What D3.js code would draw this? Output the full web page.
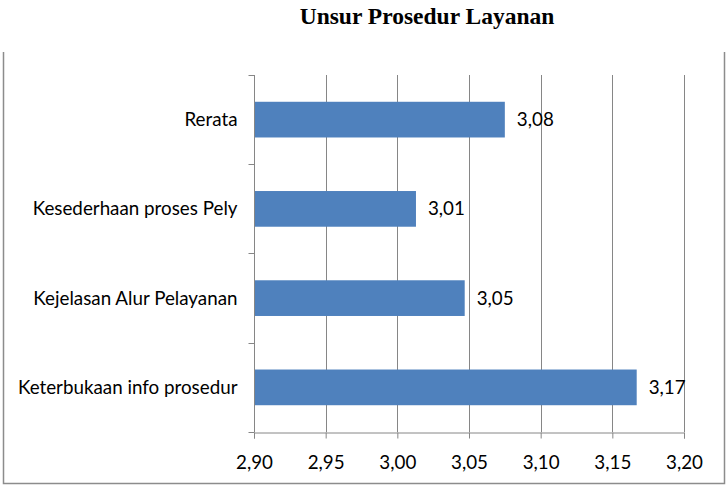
<!DOCTYPE html>
<html><head><meta charset="utf-8">
<script src="https://cdn.jsdelivr.net/npm/d3@7"></script>
<style>body{margin:0;background:#fff}svg{display:block}</style>
</head><body>
<script>
const categories = ["Rerata","Kesederhaan proses Pely","Kejelasan Alur Pelayanan","Keterbukaan info prosedur"];
const values = [3.075, 3.013, 3.047, 3.167];
const xTicks = [2.90, 2.95, 3.00, 3.05, 3.10, 3.15, 3.20];
const title = "Unsur Prosedur Layanan";

const W = 728, H = 486;
const svg = d3.select("body").append("svg").attr("width", W).attr("height", H);
const m = {left:254, right:684, top:75, bottom:432};
const x = d3.scaleLinear().domain([2.90, 3.20]).range([m.left, m.right]);
const y = d3.scaleBand().domain(categories).range([m.top, m.bottom]).paddingInner(0.6).paddingOuter(0.3);
const fmt = v => d3.format(".2f")(v).replace(".", ",");
const font = "Lato, 'Open Sans', sans-serif";
const fs = 18.8;

// outer border (left, right, bottom)
const bc = "#8c8c8c";
svg.append("path").attr("d","M3.5,52 V483.5 H724.5 V52").attr("fill","none").attr("stroke",bc).attr("stroke-width",1.5);

svg.append("text").attr("x",427).attr("y",24).attr("text-anchor","middle")
  .attr("font-family","'Liberation Serif','Times New Roman',serif").attr("font-weight","bold")
  .attr("font-size",23.5).text(title);

// gridlines
svg.append("g").selectAll("line").data(xTicks).join("line")
  .attr("x1",d=>Math.round(x(d))+0.5).attr("x2",d=>Math.round(x(d))+0.5)
  .attr("y1",m.top).attr("y2",m.bottom).attr("stroke","#868686").attr("stroke-width",1);

// x axis
const xa = svg.append("g").attr("transform",`translate(0,${m.bottom+0.5})`)
  .call(d3.axisBottom(x).tickValues(xTicks).tickFormat(fmt).tickSize(6).tickPadding(17));
xa.select(".domain").attr("stroke","#868686");
xa.selectAll(".tick line").attr("stroke","#868686");
xa.selectAll("text").attr("font-family",font).attr("font-size",fs).attr("fill","#000");

// y axis
const boundaries = categories.map(c => y(c) - y.step()*y.paddingInner()/2);
boundaries.push(m.bottom);
const ya = svg.append("g").attr("transform",`translate(${m.left+0.5},0)`);
ya.append("line").attr("y1",m.top).attr("y2",m.bottom).attr("stroke","#868686");
ya.selectAll("line.t").data(boundaries).join("line").attr("class","t")
  .attr("x1",-6).attr("x2",0).attr("y1",d=>Math.round(d)+0.5).attr("y2",d=>Math.round(d)+0.5).attr("stroke","#868686");
ya.selectAll("text").data(categories).join("text")
  .attr("x",-17).attr("y",c=>y(c)+y.bandwidth()/2).attr("dy","0.35em").attr("text-anchor","end")
  .attr("font-family",font).attr("font-size",fs).attr("fill","#000").text(c=>c);

// bars
svg.append("g").selectAll("rect").data(categories).join("rect")
  .attr("x",m.left+1).attr("y",c=>y(c)).attr("height",y.bandwidth())
  .attr("width",(c,i)=>x(values[i])-m.left-1).attr("fill","#4f81bd");

// value labels
svg.append("g").selectAll("text").data(categories).join("text")
  .attr("x",(c,i)=>x(values[i])+12).attr("y",c=>y(c)+y.bandwidth()/2).attr("dy","0.35em")
  .attr("font-family",font).attr("font-size",fs).attr("fill","#000").text((c,i)=>fmt(values[i]));
</script>
</body></html>
